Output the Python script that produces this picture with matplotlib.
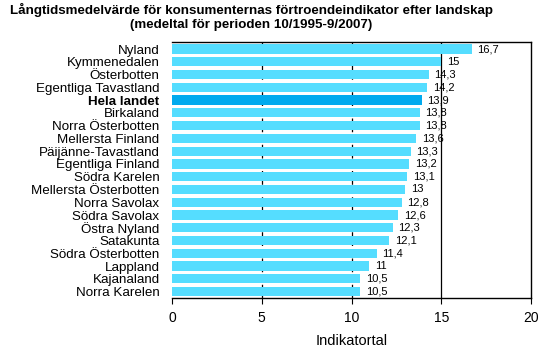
import matplotlib.pyplot as plt

regions = [
    "Nyland", "Kymmenedalen", "Österbotten", "Egentliga Tavastland",
    "Hela landet", "Birkaland", "Norra Österbotten", "Mellersta Finland",
    "Päijänne-Tavastland", "Egentliga Finland", "Södra Karelen",
    "Mellersta Österbotten", "Norra Savolax", "Södra Savolax", "Östra Nyland",
    "Satakunta", "Södra Österbotten", "Lappland", "Kajanaland", "Norra Karelen",
]
values = [16.7, 15, 14.3, 14.2, 13.9, 13.8, 13.8, 13.6, 13.3, 13.2, 13.1,
          13, 12.8, 12.6, 12.3, 12.1, 11.4, 11, 10.5, 10.5]
highlight = "Hela landet"

BAR = "#55DDFF"
BAR_HL = "#00AAEE"

plt.rcParams["font.family"] = ["Liberation Sans", "DejaVu Sans"]

fig = plt.figure(figsize=(5.53, 3.48), dpi=100)
ax = fig.add_axes([172 / 553, 1 - 298 / 348, 359 / 553, 256 / 348])

ypos = list(range(len(regions)))
colors = [BAR_HL if r == highlight else BAR for r in regions]
ax.barh(ypos, values, height=0.72, color=colors, zorder=2)

for y, v in zip(ypos, values):
    txt = f"{v:g}".replace(".", ",")
    ax.text(v + 0.32, y, txt, va="center", ha="left", fontsize=8, zorder=3)

ax.set_ylim(len(regions) - 0.5, -0.55)
ax.set_xlim(0, 20)
ax.set_yticks(ypos)
ax.set_yticklabels(regions, fontsize=9.6)
for lbl in ax.get_yticklabels():
    if lbl.get_text() == highlight:
        lbl.set_fontweight("bold")
ax.tick_params(axis="y", length=0, pad=9)
ax.set_xticks([0, 5, 10, 15, 20])
ax.tick_params(axis="x", direction="out", length=4, labelsize=10, pad=5)

ax.axvline(5, color="black", lw=0.9, ls=(0, (4, 3)), zorder=1)
ax.axvline(10, color="black", lw=0.9, ls=(0, (4, 3)), zorder=1)
ax.axvline(15, color="black", lw=0.9, zorder=1)

for s in ax.spines.values():
    s.set_linewidth(1.0)
ax.spines["left"].set_visible(False)

ax.set_xlabel("Indikatortal", fontsize=10.5, labelpad=7)

fig.text(0.455, 0.99, "Långtidsmedelvärde för konsumenternas förtroendeindikator efter landskap\n"
         "(medeltal för perioden 10/1995-9/2007)",
         ha="center", va="top", fontsize=9.6, fontweight="bold", linespacing=1.2)

fig.savefig("out.png", dpi=100, facecolor="white")
